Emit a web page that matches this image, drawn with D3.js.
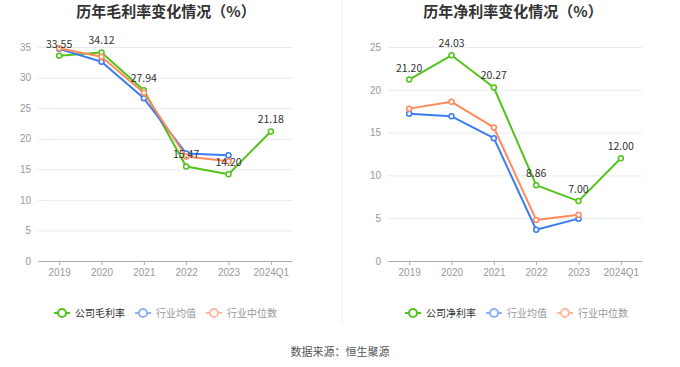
<!DOCTYPE html>
<html>
<head>
<meta charset="utf-8">
<script src="https://cdn.jsdelivr.net/npm/d3@7/dist/d3.min.js"></script>
<style>
  html, body { margin: 0; padding: 0; background: #fff; }
  svg { display: block; font-family: "Noto Sans CJK SC", "Noto Sans", sans-serif; }
</style>
</head>
<body>
<svg id="chart" width="680" height="367"></svg>
<script>
// ---- data ----
const years = ["2019", "2020", "2021", "2022", "2023", "2024Q1"];
const grossCompany = [33.55, 34.12, 27.94, 15.47, 14.20, 21.18];
const grossIndustryAvg = [34.7, 32.6, 26.6, 17.6, 17.3, null];
const grossIndustryMedian = [34.8, 33.4, 27.5, 17.1, 16.3, null];
const netCompany = [21.20, 24.03, 20.27, 8.86, 7.00, 12.00];
const netIndustryAvg = [17.2, 16.9, 14.35, 3.65, 4.95, null];
const netIndustryMedian = [17.8, 18.6, 15.6, 4.8, 5.4, null];
const grossTicks = [0, 5, 10, 15, 20, 25, 30, 35];
const netTicks = [0, 5, 10, 15, 20, 25];
const grossTitle = "历年毛利率变化情况（%）";
const netTitle = "历年净利率变化情况（%）";
const grossLegend = ["公司毛利率", "行业均值", "行业中位数"];
const netLegend = ["公司净利率", "行业均值", "行业中位数"];
const sourceText = "数据来源：恒生聚源";

const colors = ["#52c41a", "#3b7cf0", "#ff8a5c"];
const legendIconColors = ["#52c41a", "#8db3f6", "#ffb89e"];
const legendTextColors = ["#333", "#999", "#999"];

const svg = d3.select("#chart");

function drawPanel(cfg) {
  const g = svg.append("g");
  const x = d3.scalePoint().domain(years).range([cfg.x0, cfg.x1]).padding(0.5);
  const y = d3.scaleLinear().domain([0, cfg.max]).range([261, 47]);

  // title
  g.append("text")
    .attr("x", cfg.cx).attr("y", 17)
    .attr("text-anchor", "middle")
    .attr("font-size", 15).attr("font-weight", "bold").attr("fill", "#333")
    .text(cfg.title);

  // grid
  const grid = g.append("g").attr("transform", `translate(${cfg.x0},0)`)
    .call(d3.axisLeft(y).tickValues(cfg.ticks).tickSize(-(cfg.x1 - cfg.x0)).tickFormat(""));
  grid.select(".domain").remove();
  grid.selectAll("line").attr("stroke", "#e6eaf3").attr("stroke-width", 1);

  // y labels
  const ya = g.append("g").attr("transform", `translate(${cfg.x0},0)`)
    .call(d3.axisLeft(y).tickValues(cfg.ticks).tickSize(0).tickPadding(7));
  ya.select(".domain").remove();
  ya.selectAll("text").attr("fill", "#999").attr("font-size", 10).style("font-family", "inherit");

  // x axis
  const xa = g.append("g").attr("transform", "translate(0,261)")
    .call(d3.axisBottom(x).tickSize(4).tickSizeOuter(0).tickPadding(4));
  xa.select(".domain").attr("stroke", "#aaa");
  xa.selectAll("line").attr("stroke", "#aaa");
  xa.selectAll("text").attr("fill", "#999").attr("font-size", 10).style("font-family", "inherit");

  const line = d3.line()
    .defined(d => d.v != null)
    .x(d => x(d.k)).y(d => y(d.v));

  cfg.series.forEach((s, i) => {
    const pts = years.map((k, j) => ({ k, v: s[j] }));
    g.append("path").datum(pts)
      .attr("d", line).attr("fill", "none")
      .attr("stroke", colors[i]).attr("stroke-width", 2)
      .attr("stroke-linejoin", "round");
    g.selectAll(null).data(pts.filter(d => d.v != null)).enter()
      .append("circle")
      .attr("cx", d => x(d.k)).attr("cy", d => y(d.v)).attr("r", 2.5)
      .attr("fill", "#fff").attr("stroke", colors[i]).attr("stroke-width", 1.5);
  });

  // labels for company series
  const comp = years.map((k, j) => ({ k, v: cfg.series[0][j] }));
  g.selectAll(null).data(comp).enter().append("text")
    .attr("x", d => x(d.k)).attr("y", d => y(d.v) - 8)
    .attr("text-anchor", "middle")
    .attr("font-size", 10.5).attr("fill", "#333")
    .text(d => d.v.toFixed(2));

  // legend
  let lx = cfg.legendX;
  const ly = 313;
  cfg.legend.forEach((name, i) => {
    const lg = g.append("g");
    lg.append("line").attr("x1", lx).attr("x2", lx + 16).attr("y1", ly).attr("y2", ly)
      .attr("stroke", legendIconColors[i]).attr("stroke-width", 2);
    lg.append("circle").attr("cx", lx + 8).attr("cy", ly).attr("r", 4)
      .attr("fill", "#fff").attr("stroke", legendIconColors[i]).attr("stroke-width", 2);
    const t = lg.append("text").attr("x", lx + 21).attr("y", ly + 3.5)
      .attr("font-size", 10).attr("fill", legendTextColors[i]).text(name);
    lx += 21 + t.node().getComputedTextLength() + 10;
  });
}

drawPanel({
  x0: 38, x1: 292, cx: 166, max: 35, ticks: grossTicks, title: grossTitle,
  series: [grossCompany, grossIndustryAvg, grossIndustryMedian],
  legend: grossLegend, legendX: 54
});
drawPanel({
  x0: 388, x1: 642, cx: 513, max: 25, ticks: netTicks, title: netTitle,
  series: [netCompany, netIndustryAvg, netIndustryMedian],
  legend: netLegend, legendX: 405
});

// divider
svg.append("line").attr("x1", 342).attr("x2", 342).attr("y1", 0).attr("y2", 325)
  .attr("stroke", "#f0f0f0").attr("stroke-width", 1);

// source
svg.append("text").attr("x", 340).attr("y", 356).attr("text-anchor", "middle")
  .attr("font-size", 11).attr("fill", "#555").text(sourceText);
</script>
</body>
</html>
